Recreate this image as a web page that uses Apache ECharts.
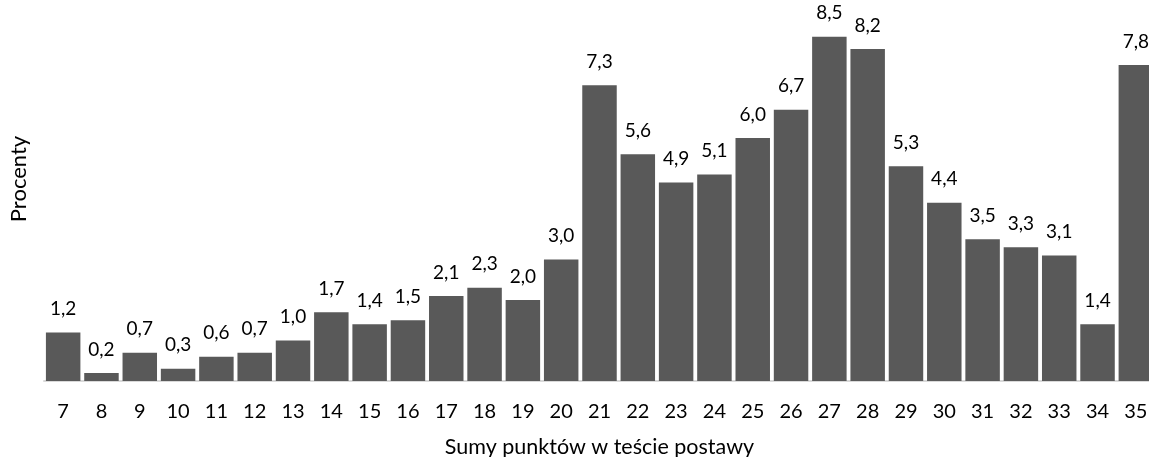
<!DOCTYPE html>
<html><head><meta charset="utf-8">
<script src="https://cdn.jsdelivr.net/npm/echarts@6/dist/echarts.min.js"></script>
<style>html,body{margin:0;padding:0;background:#fff}#c{width:1149px;height:457px}</style>
</head><body><div id="c"></div>
<script>
const categories = ['7','8','9','10','11','12','13','14','15','16','17','18','19','20','21','22','23','24','25','26','27','28','29','30','31','32','33','34','35'];
const percents = [1.2,0.2,0.7,0.3,0.6,0.7,1.0,1.7,1.4,1.5,2.1,2.3,2.0,3.0,7.3,5.6,4.9,5.1,6.0,6.7,8.5,8.2,5.3,4.4,3.5,3.3,3.1,1.4,7.8];
const xTitle = 'Sumy punktów w teście postawy';
const yTitle = 'Procenty';
const FONT = 'Lato';
const chart = echarts.init(document.getElementById('c'), null, {renderer:'canvas'});
chart.setOption({
  animation:false,
  textStyle:{fontFamily:FONT},
  grid:{left:44, right:-6, top:16.5, bottom:76, containLabel:false, outerBoundsMode:'none'},
  xAxis:{type:'category', data:categories,
    axisLine:{lineStyle:{color:'#d9d9d9', width:2}},
    axisTick:{show:false},
    axisLabel:{color:'#000', fontSize:20, margin:21, fontFamily:FONT},
    name:xTitle, nameLocation:'middle', nameGap:55,
    nameTextStyle:{color:'#000', fontSize:21.5, fontFamily:FONT}},
  yAxis:{type:'value', min:0, max:9,
    axisLine:{show:false}, axisTick:{show:false}, axisLabel:{show:false}, splitLine:{show:false}},
  graphic:[{type:'text', x:19, y:179, rotation:Math.PI/2,
    style:{text:yTitle, font:'22px Lato', fill:'#000', align:'center', verticalAlign:'middle'}}],
  series:[{type:'bar', data:percents, barCategoryGap:'10%',
    itemStyle:{color:'#595959'},
    label:{show:true, position:'top', distance:14, color:'#000', fontSize:19, fontFamily:FONT,
      formatter:p=>p.value.toFixed(1).replace('.',',')}}]
});
</script></body></html>
